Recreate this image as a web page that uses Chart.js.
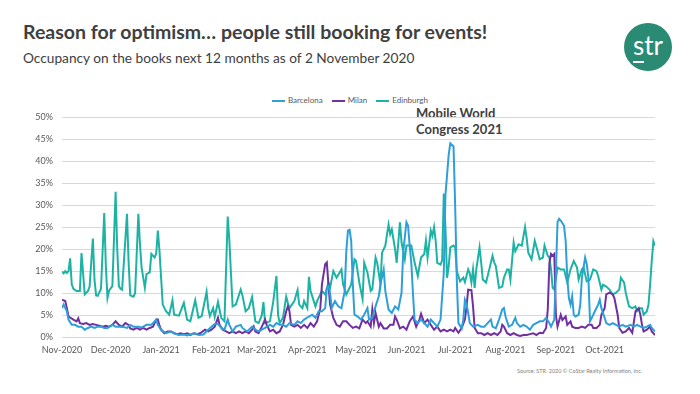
<!DOCTYPE html>
<html>
<head>
<meta charset="utf-8">
<script src="https://cdn.jsdelivr.net/npm/chart.js@4"></script>
<style>
  body { margin: 0; width: 700px; height: 394px; background: #fff; position: relative; overflow: hidden; font-family: Lato, "Open Sans", sans-serif; color: #404040; }
  #chart { position: absolute; left: 0; top: 0; }
  .title { position: absolute; left: 23px; top: 20px; font-size: 19.5px; font-weight: bold; white-space: nowrap; }
  .subtitle { position: absolute; left: 23px; top: 49px; font-size: 13.7px; white-space: nowrap; }
  .logo { position: absolute; left: 624px; top: 23px; width: 48px; height: 48px; border-radius: 50%; background: #2b8a73; color: #fff; font-size: 26px; text-align: center; line-height: 44px; }
  .logo span { border-bottom: 2px solid #fff; line-height: 1; }
  .legend { position: absolute; top: 95px; left: 272px; font-size: 8px; color: #595959; white-space: nowrap; }
  .legend i { display: inline-block; width: 13px; height: 2px; vertical-align: middle; margin: 0 3px 0 9px; }
  .legend i:first-child { margin-left: 0; }
  .note { position: absolute; left: 416px; top: 105px; font-size: 13px; font-weight: bold; line-height: 16px; color: #404040; }
  .source { position: absolute; left: 517px; top: 368px; font-size: 5.5px; color: #7f7f7f; white-space: nowrap; }
</style>
</head>
<body>
<div class="title">Reason for optimism… people still booking for events!</div>
<div class="subtitle">Occupancy on the books next 12 months as of 2 November 2020</div>
<div class="logo"><span>s</span>tr</div>
<div class="legend"><i style="background:#2e9fd9"></i>Barcelona<i style="background:#7030a0"></i>Milan<i style="background:#1db3a4"></i>Edinburgh</div>
<div class="note">Mobile World<br>Congress 2021</div>
<div class="source">Source: STR. 2020 © CoStar Realty Information, Inc.</div>
<canvas id="chart" width="700" height="394"></canvas>
<script>
// x values are days counted from 1 Nov 2020
var monthStarts = [0, 30, 61, 92, 120, 151, 181, 212, 242, 273, 304, 334];
var monthLabels = ['Nov-2020', 'Dec-2020', 'Jan-2021', 'Feb-2021', 'Mar-2021', 'Apr-2021', 'May-2021', 'Jun-2021', 'Jul-2021', 'Aug-2021', 'Sep-2021', 'Oct-2021'];

var barcelonaDays = [0,1,3,4,6,8,10,12,14,16,18,20,22,24,26,28,31,33,37,40,42,44,47,49,52,55,57,58,59,61,64,67,69,72,75,77,79,82,84,87,90,92,94,96,98,100,102,103,105,107,110,111,114,117,119,121,123,125,128,130,132,134,136,138,140,143,145,147,149,152,154,156,158,160,162,163,164,165,166,168,170,172,174,175,176,177,178,179,180,182,184,186,188,189,191,192,193,195,196,198,199,201,203,205,207,209,210,212,213,214,215,216,217,219,221,223,225,227,229,231,233,235,236,238,239,241,242,243,244,246,247,248,249,250,251,253,256,258,260,262,264,265,267,269,271,272,273,275,277,279,280,282,284,286,288,290,292,294,296,298,300,301,303,304,305,306,307,309,310,311,312,313,314,315,316,318,319,320,322,323,324,325,327,328,330,331,332,334,335,337,339,341,343,345,347,350,352,354,356,358,360,362,363,365];
var barcelona = [6.6,7.4,5.9,4.0,2.8,2.8,2.4,2.4,1.7,2.1,2.4,2.1,2.4,2.4,2.1,2.1,2.8,2.4,2.4,2.1,2.8,2.4,2.4,2.2,2.8,2.8,3.6,4.0,2.8,1.7,0.9,1.3,0.9,0.5,0.6,0.4,0.6,0.9,0.5,0.6,1.7,2.4,3.0,3.0,2.1,1.7,4.0,2.8,1.3,2.4,2.8,2.1,1.3,2.4,1.7,1.3,1.7,2.1,2.8,2.4,3.2,2.8,2.8,2.4,3.2,2.8,3.6,3.2,4.0,4.7,5.1,4.4,5.9,5.9,6.6,11.2,11.6,10.0,6.6,8.2,7.0,6.6,10.5,19.6,24.2,24.4,21.9,12.0,5.1,4.7,4.0,5.1,6.6,4.0,4.4,5.9,7.0,9.3,12.0,15.4,10.5,6.3,5.5,7.0,6.3,10.1,19.2,26.1,25.3,20.8,16.9,10.1,4.0,3.2,4.0,3.2,2.4,4.0,3.2,2.4,4.0,14.7,32.2,41.4,44.0,43.3,29.9,13.1,3.2,2.0,4.0,8.5,7.5,5.5,3.2,2.4,2.8,2.4,2.4,3.2,4.0,2.4,2.0,4.0,6.3,6.6,4.7,2.4,2.8,4.4,3.2,2.4,2.8,2.4,1.7,2.8,3.2,3.6,3.6,4.4,3.2,2.4,4.0,14.7,26.1,26.9,26.5,25.3,21.9,13.5,8.9,7.4,9.3,5.1,4.7,5.1,7.4,13.5,18.1,16.6,13.5,3.6,5.1,5.9,7.4,8.5,6.6,4.4,3.2,2.8,3.2,2.8,2.4,2.8,2.4,2.8,2.4,2.8,2.4,2.1,2.4,2.8,2.1,1.3];

var milanDays = [0,2,3,4,7,9,10,11,13,15,17,19,21,23,25,27,29,31,33,35,37,39,41,42,44,46,48,50,52,54,56,58,59,60,61,63,65,67,69,71,73,75,77,79,81,83,85,88,90,92,94,96,97,99,101,103,105,107,109,111,113,115,117,118,119,121,123,125,126,128,130,132,134,136,138,139,140,141,143,145,147,149,151,153,155,157,159,160,162,163,164,165,167,169,171,173,175,177,179,181,183,185,187,188,190,191,192,193,195,196,198,200,202,204,205,206,208,210,212,214,216,218,220,221,223,225,227,229,231,233,235,237,239,241,242,244,246,248,249,250,252,253,254,256,258,260,262,264,266,268,270,271,272,274,276,278,280,282,284,286,288,290,292,294,296,298,299,300,301,302,303,304,305,307,308,310,311,313,314,316,318,320,322,324,326,327,329,331,332,334,335,337,339,340,342,343,345,347,349,351,353,355,356,357,358,360,362,363,365];
var milan = [8.5,8.2,6.6,4.7,4.0,3.6,4.3,3.2,3.0,3.2,2.8,3.0,2.8,2.6,2.4,2.6,2.4,2.8,3.6,2.8,2.4,3.2,2.8,2.0,1.7,2.1,1.7,2.1,1.7,2.1,2.4,4.0,4.0,2.6,1.7,0.9,1.3,1.3,0.9,0.7,0.9,0.7,0.9,0.5,0.9,0.7,0.9,1.7,1.3,1.7,2.4,4.4,2.8,1.7,1.3,0.9,1.3,0.9,1.3,0.9,1.3,0.9,1.7,2.4,1.3,0.9,2.4,4.0,2.8,1.3,1.7,0.9,1.3,2.8,5.9,7.0,5.9,2.8,2.4,2.8,2.1,2.8,2.1,3.2,2.4,3.6,6.6,12.0,16.6,17.0,12.0,7.4,4.4,2.8,2.4,3.6,3.6,2.8,2.1,2.4,2.0,4.0,3.2,3.6,2.4,6.3,3.2,5.5,2.4,3.2,2.0,2.0,2.8,2.8,4.7,4.0,2.0,2.4,1.7,3.6,4.7,2.4,4.0,5.3,3.2,4.0,2.8,1.7,2.4,1.3,1.7,1.3,1.7,1.3,2.1,1.0,2.1,4.0,7.0,10.8,10.7,7.0,2.1,0.9,0.9,0.5,0.9,0.5,0.9,0.5,1.3,2.8,2.4,0.9,0.5,0.9,0.5,0.3,0.5,0.5,0.7,0.9,0.5,1.0,0.9,2.1,6.3,16.9,18.9,18.5,18.9,5.0,2.4,5.1,3.9,4.7,2.8,3.6,2.4,2.1,2.1,2.4,2.1,2.8,2.8,2.1,2.1,2.8,5.1,6.6,9.7,10.1,9.7,8.9,5.1,2.1,1.0,1.3,2.1,1.0,5.9,6.6,5.1,2.8,1.3,1.7,2.4,1.3,0.5];

var edinburghDays = [0,1,2,3,4,5,6,7,9,11,12,14,16,17,19,20,21,22,24,26,27,28,29,31,33,34,35,36,37,40,41,42,44,45,47,48,49,51,52,54,55,56,57,58,59,60,62,64,66,68,69,72,75,77,79,82,84,86,89,90,91,93,94,96,98,100,102,103,105,107,110,111,113,115,117,119,121,123,124,125,128,130,132,133,134,136,138,139,140,143,145,146,148,149,151,152,153,156,157,160,162,164,165,167,169,172,173,175,178,180,181,183,185,186,188,190,191,193,194,196,197,199,201,202,203,205,206,208,209,211,212,215,217,219,221,223,224,225,227,228,229,230,231,233,234,235,236,237,238,239,241,242,243,245,247,248,250,251,252,253,254,255,257,258,259,261,263,265,266,267,269,271,272,274,275,276,278,279,280,281,283,285,286,287,289,291,293,294,296,297,299,300,301,302,303,305,307,309,311,313,315,317,318,320,321,323,325,327,329,330,332,333,335,337,339,341,343,344,346,347,349,351,353,354,356,357,358,360,361,362,363,364,365];
var edinburgh = [14.9,14.5,15.0,14.6,15.0,17.9,12.0,11.0,10.5,10.5,19.1,9.7,10.5,11.5,22.4,13.0,9.5,9.4,11.0,28.2,16.0,8.9,10.6,11.6,33.0,20.0,11.6,11.0,10.8,28.0,17.0,9.5,9.2,10.0,28.0,21.0,15.8,11.2,14.3,14.7,18.9,18.5,18.1,19.0,24.2,19.6,7.4,5.9,5.1,8.4,5.1,4.9,7.8,4.0,3.6,8.4,4.4,4.8,10.3,6.6,4.8,6.6,4.6,8.0,4.4,3.6,27.4,22.0,7.0,7.4,10.8,9.6,5.9,6.6,9.1,3.6,3.2,5.0,8.0,3.2,3.6,8.0,13.9,5.0,3.2,4.4,9.2,7.8,6.6,8.2,10.7,7.4,6.6,8.2,6.6,13.7,10.5,7.0,8.2,10.5,9.7,12.4,11.2,15.0,13.5,15.4,12.0,9.7,12.0,17.7,17.3,12.4,8.7,16.9,14.7,10.5,10.9,18.1,16.9,12.0,19.2,20.8,25.6,23.4,24.5,20.0,16.9,26.1,21.5,17.7,20.8,20.8,17.0,13.9,18.1,18.9,21.9,18.1,24.2,23.0,25.0,21.9,16.9,16.5,17.5,32.6,25.0,13.5,16.0,20.4,20.8,20.4,15.0,12.7,13.5,12.5,15.4,14.5,12.4,15.4,11.2,15.4,20.4,17.0,13.1,12.4,15.4,18.5,17.0,16.2,11.2,11.5,13.5,15.4,15.4,13.1,21.5,19.5,20.3,21.1,20.8,25.0,22.5,19.2,17.7,21.9,19.2,17.7,18.1,20.8,18.5,18.1,15.4,11.2,10.8,15.8,15.4,15.4,12.4,15.4,17.3,15.8,13.1,15.4,15.8,12.7,13.1,15.4,15.0,13.9,10.8,11.9,11.5,10.8,9.7,10.1,10.8,13.5,12.4,10.1,7.0,6.6,7.0,5.9,6.6,6.6,5.1,5.9,7.4,12.0,17.3,21.8,20.8];

function pairs(days, vals) {
    var out = [];
    for (var i = 0; i < days.length; i++) {
        out.push({x: days[i], y: vals[i]});
    }
    return out;
}

function series(label, days, vals, color) {
    return {
        label: label,
        data: pairs(days, vals),
        borderColor: color,
        backgroundColor: color,
        borderWidth: 2,
        pointRadius: 0,
        tension: 0
    };
}

var tickFont = {family: 'Lato, "Open Sans", sans-serif', size: 9};

new Chart(document.getElementById('chart'), {
    type: 'line',
    data: {
        datasets: [
            series('Barcelona', barcelonaDays, barcelona, '#2e9fd9'),
            series('Milan', milanDays, milan, '#7030a0'),
            series('Edinburgh', edinburghDays, edinburgh, '#1db3a4')
        ]
    },
    options: {
        responsive: false,
        animation: false,
        layout: {padding: {left: 10, right: 45, top: 117, bottom: 32}},
        plugins: {
            legend: {display: false},
            tooltip: {enabled: false}
        },
        scales: {
            x: {
                type: 'linear',
                min: 0,
                max: 365,
                afterBuildTicks: function(scale) {
                    scale.ticks = monthStarts.map(function(v) { return {value: v}; });
                },
                ticks: {
                    autoSkip: false,
                    maxRotation: 0,
                    padding: 7,
                    color: '#595959',
                    font: tickFont,
                    callback: function(value, index) { return monthLabels[index]; }
                },
                grid: {display: false, drawTicks: false},
                border: {display: false}
            },
            y: {
                min: 0,
                max: 50,
                afterFit: function(scale) { scale.width = 52; },
                ticks: {
                    stepSize: 5,
                    padding: 9,
                    color: '#595959',
                    font: tickFont,
                    callback: function(value) { return value + '%'; }
                },
                grid: {color: '#d9d9d9', drawTicks: false},
                border: {display: false}
            }
        }
    }
});
</script>
</body>
</html>
